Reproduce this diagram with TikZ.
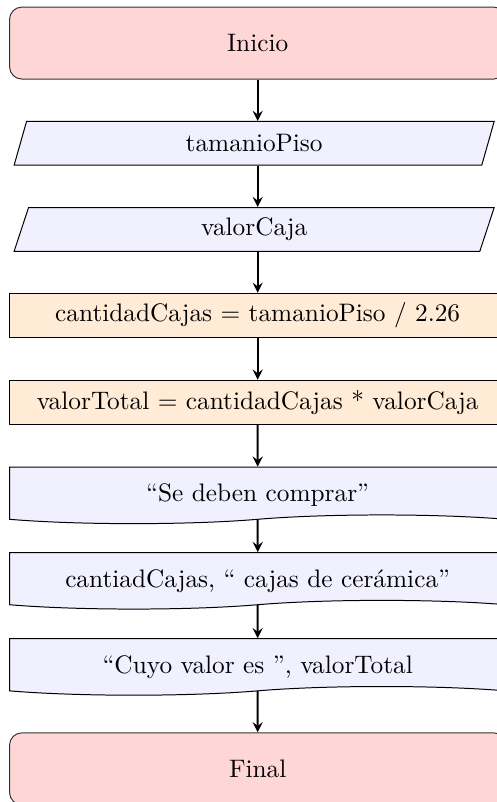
\documentclass[tikz,border=0pt]{standalone}
\usepackage{tikz}
\usetikzlibrary{shapes.geometric, shapes.symbols, arrows}

\begin{document}
\begin{tikzpicture}[
    every node/.style={font=\fontsize{10.2pt}{12.3pt}\selectfont},
    startstop/.style={rectangle, rounded corners=5pt, minimum width=7.03cm, minimum height=1.02cm, draw=black!80, fill=red!16},
    io/.style={trapezium, trapezium left angle=70, trapezium right angle=110, trapezium stretches body, minimum width=6.8cm, minimum height=0.62cm, draw, fill=blue!6},
    process/.style={rectangle, minimum width=7.03cm, minimum height=0.63cm, draw, fill=orange!16},
    docu/.style={tape, tape bend top=none, tape bend height=3.5pt, anchor=north, minimum width=7.03cm, minimum height=0.8cm, inner ysep=2pt, text height=10pt, text depth=1.5pt, draw, fill=blue!6},
    arrow/.style={thick, ->, >=stealth}
]

    % --- Page frame ---
    \useasboundingbox (0,0) rectangle (7.03,-11.36);

    % --- Start ---
    \node[startstop] (inicio) at (3.65,-0.61) {Inicio};

    % --- Inputs ---
    \node[io] (tamanio) at (3.60,-2.03) {tamanioPiso};
    \node[io] (valor) at (3.60,-3.25) {valorCaja};

    % --- Calculations ---
    \node[process] (cantidad) at (3.65,-4.47) {cantidadCajas = tamanioPiso / 2.26};
    \node[process] (total) at (3.65,-5.70) {valorTotal = cantidadCajas * valorCaja};

    % --- Outputs ---
    \node[docu] (msg1) at (3.65,-6.61) {``Se deben comprar''};
    \node[docu] (msg2) at (3.65,-7.82) {cantiadCajas, `` cajas de cerámica''};
    \node[docu] (msg3) at (3.65,-9.04) {``Cuyo valor es '', valorTotal};

    % --- End ---
    \node[startstop] (final) at (3.65,-10.89) {Final};

    % --- Arrows ---
    \draw[arrow] (inicio.south) -- (inicio.south |- tamanio.north);
    \draw[arrow] (inicio.south |- tamanio.south) -- (inicio.south |- valor.north);
    \draw[arrow] (inicio.south |- valor.south) -- (cantidad.north);
    \draw[arrow] (cantidad) -- (total);
    \draw[arrow] (total) -- (msg1);
    \draw[arrow] (msg1) -- (msg2);
    \draw[arrow] (msg2) -- (msg3);
    \draw[arrow] (msg3) -- (final);

\end{tikzpicture}
\end{document}
